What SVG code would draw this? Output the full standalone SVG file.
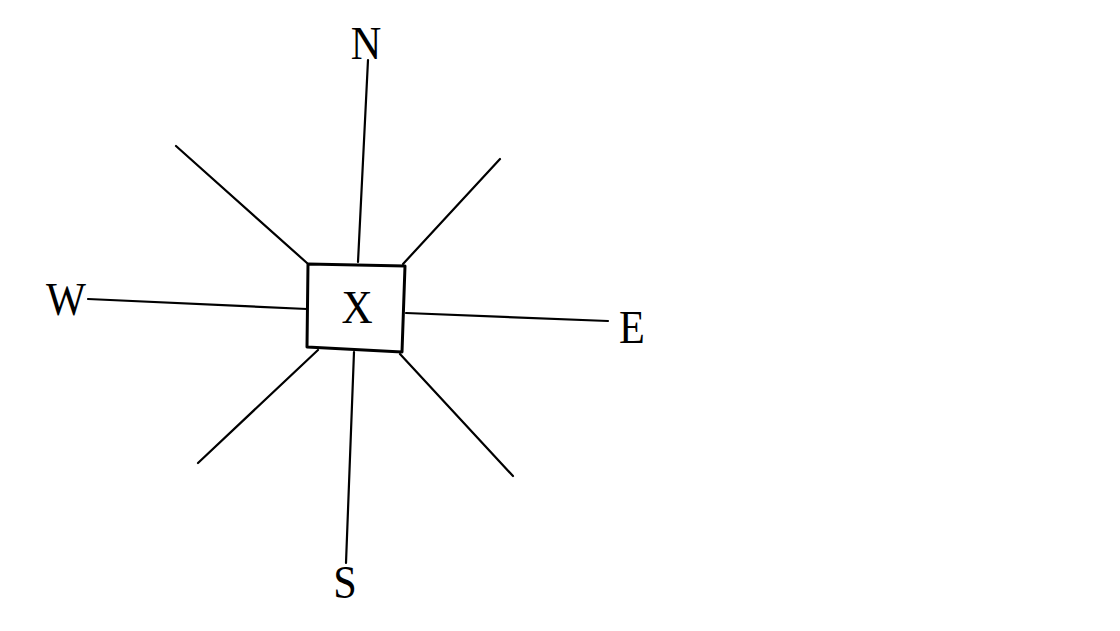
<svg xmlns="http://www.w3.org/2000/svg" width="1120" height="631" viewBox="0 0 1120 631">
<style>
.ln{stroke:#000;stroke-width:2.2;fill:none;stroke-linecap:round}
.box{stroke:#000;stroke-width:3;fill:#fff;stroke-linejoin:round}
.lb{font-family:"Liberation Serif",serif;font-size:47px;fill:#000;text-anchor:middle}
</style>
<rect width="1120" height="631" fill="#fff"/>
<g id="connectors">
<line class="ln" x1="358" y1="262" x2="368" y2="60"/>
<line class="ln" x1="354" y1="352" x2="346" y2="563"/>
<line class="ln" x1="88" y1="299" x2="307" y2="309"/>
<line class="ln" x1="406" y1="313" x2="608" y2="321"/>
<line class="ln" x1="176" y1="146" x2="307" y2="263"/>
<line class="ln" x1="500" y1="159" x2="403" y2="264"/>
<line class="ln" x1="318" y1="350" x2="198" y2="463"/>
<line class="ln" x1="400" y1="354" x2="513" y2="476"/>
</g>
<g id="nodeX">
<polygon class="box" points="308,264 405,266 402,352 307,347"/>
<text class="lb" x="357" y="323" transform="translate(357 0) scale(0.92 1) translate(-357 0)">X</text>
</g>
<g id="labelN"><text class="lb" x="366" y="59" transform="translate(366 0) scale(0.9 1) translate(-366 0)">N</text></g>
<g id="labelS"><text class="lb" x="345" y="598" transform="translate(345 0) scale(0.9 1) translate(-345 0)">S</text></g>
<g id="labelW"><text class="lb" x="66" y="315" transform="translate(66 0) scale(0.9 1) translate(-66 0)">W</text></g>
<g id="labelE"><text class="lb" x="632" y="343" transform="translate(632 0) scale(0.9 1) translate(-632 0)">E</text></g>
</svg>
